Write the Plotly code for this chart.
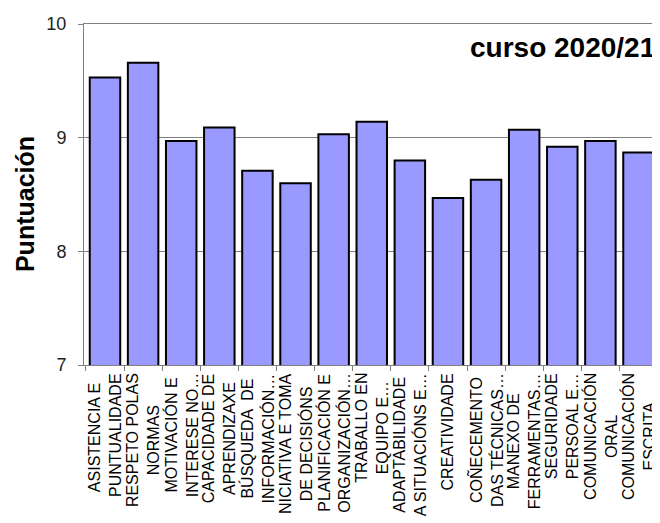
import plotly.graph_objects as go

categories = [
    "ASISTENCIA E\u00a0<br>PUNTUALIDADE",
    "RESPETO POLAS<br>NORMAS",
    "MOTIVACIÓN E<br>INTERESE NO…",
    "CAPACIDADE DE<br>APRENDIZAXE",
    "BÚSQUEDA  DE<br>INFORMACIÓN…",
    "NICIATIVA E TOMA<br>DE DECISIÓNS",
    "PLANIFICACIÓN E<br>ORGANIZACIÓN…",
    "TRABALLO EN<br>EQUIPO E…",
    "ADAPTABILIDADE<br>A SITUACIÓNS E…",
    "CREATIVIDADE",
    "COÑECEMENTO<br>DAS TÉCNICAS…",
    "MANEXO DE<br>FERRAMENTAS…",
    "SEGURIDADE<br>PERSOAL E…",
    "COMUNICACIÓN<br>ORAL",
    "COMUNICACIÓN<br>ESCRITA",
]
values = [9.53, 9.66, 8.97, 9.09, 8.71, 8.60, 9.03, 9.14, 8.80, 8.47, 8.63, 9.07, 8.92, 8.97, 8.87]
y_ticks = [7, 8, 9, 10]
title_text = "curso 2020/21"
y_title = "Puntuación"

fig = go.Figure(go.Bar(
    x=categories,
    y=values,
    marker=dict(color="#9999FF", line=dict(color="black", width=2)),
))

# page body has an 8px default margin: figure sized/margined to compensate
fig.update_layout(
    width=652, height=515,
    margin=dict(l=76, r=0, t=16, b=158),
    paper_bgcolor="white", plot_bgcolor="white",
    bargap=0.2,
    showlegend=False,
    font=dict(family="Arial, Liberation Sans, sans-serif", color="black"),
)
fig.update_xaxes(
    type="category",
    showticklabels=False,
    tickson="boundaries",
    showline=True, linecolor="#808080", linewidth=1, mirror=True,
    ticks="outside", ticklen=5, tickcolor="#808080",
    showgrid=False,
    automargin=False,
)
fig.update_yaxes(
    range=[7, 10],
    tickvals=y_ticks,
    tickfont=dict(size=18, color="#222"),
    showline=True, linecolor="#808080", linewidth=1,
    ticks="outside", ticklen=5, tickcolor="#808080",
    showgrid=True, gridcolor="#808080", gridwidth=1,
    ticklabelstandoff=8,
    automargin=False,
)
for cat in categories:
    fig.add_annotation(
        text=cat, x=cat, xref="x", y=0, yref="paper",
        yshift=-6, xanchor="center", yanchor="top",
        textangle=-90, align="center", showarrow=False,
        font=dict(size=16, color="black"),
    )
fig.add_annotation(
    text="<b>" + y_title + "</b>",
    xref="paper", yref="paper", x=-0.1024, y=0.472,
    xanchor="center", yanchor="middle", textangle=-90,
    showarrow=False, font=dict(size=25, color="black"),
)
fig.add_annotation(
    text="<b>" + title_text + "</b>",
    xref="paper", yref="paper", x=0.995, y=0.93,
    xanchor="right", yanchor="middle",
    showarrow=False, font=dict(size=28, color="black"),
)

fig.write_html("out.html")
